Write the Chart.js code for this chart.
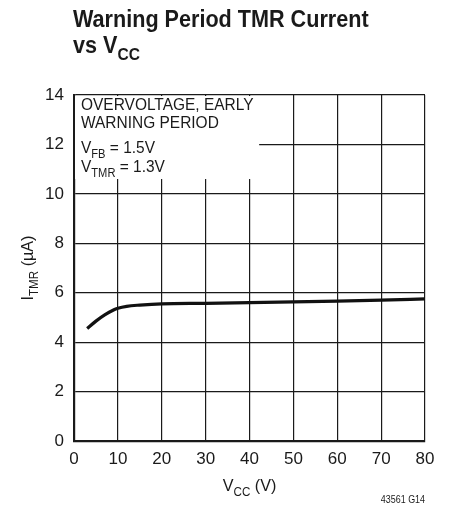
<!DOCTYPE html>
<html>
<head>
<meta charset="utf-8">
<script src="https://cdn.jsdelivr.net/npm/chart.js@4.4.0/dist/chart.umd.min.js"></script>
<style>
  html, body { margin: 0; padding: 0; background: #fff; }
  #wrap { width: 449px; height: 510px; position: relative; }
</style>
</head>
<body>
<div id="wrap"><canvas id="c" width="449" height="510"></canvas></div>
<script>
// values
let vcc = [3, 5, 7, 9, 10, 12, 15, 20, 30, 40, 50, 60, 70, 80];
let itmr = [4.55, 4.85, 5.1, 5.3, 5.37, 5.45, 5.5, 5.55, 5.57, 5.6, 5.63, 5.66, 5.7, 5.75];
let xTicks = [0, 10, 20, 30, 40, 50, 60, 70, 80];
let yTicks = [0, 2, 4, 6, 8, 10, 12, 14];

const FONT = "'Liberation Sans', sans-serif";
const INK = "#1a1a1a";

// draws text with subscript parts, squeezed horizontally by sx (the original type is condensed)
let drawParts = function(ctx, parts, x, y, size, weight, align, sx){
    sx = sx || 1;
    ctx.save();
    let w = 0;
    parts.forEach(p => {
        ctx.font = (weight || "normal") + " " + (p[1] ? size * 0.72 : size) + "px " + FONT;
        w += ctx.measureText(p[0]).width;
    });
    w *= sx;
    let cx = x;
    if(align === "center") cx = x - w / 2;
    if(align === "right") cx = x - w;
    ctx.translate(cx, y);
    ctx.scale(sx, 1);
    ctx.textBaseline = "alphabetic";
    ctx.textAlign = "left";
    ctx.fillStyle = INK;
    let px = 0;
    parts.forEach(p => {
        ctx.font = (weight || "normal") + " " + (p[1] ? size * 0.72 : size) + "px " + FONT;
        ctx.fillText(p[0], px, p[1] ? size * 0.3 : 0);
        px += ctx.measureText(p[0]).width;
    });
    ctx.restore();
};

const textPlugin = {
    id: "texts",
    afterDatasetsDraw(chart){
        const ctx = chart.ctx;
        const xs = chart.scales.x, ys = chart.scales.y;
        // white box behind the note, covering the grid
        let x0 = xs.getPixelForValue(0) + 1, x1 = xs.getPixelForValue(42.2);
        let y0 = ys.getPixelForValue(14) + 1, y1 = ys.getPixelForValue(10.6);
        ctx.save();
        ctx.fillStyle = "#fff";
        ctx.fillRect(x0, y0, x1 - x0, y1 - y0);
        ctx.restore();
        let tx = x0 + 6;
        drawParts(ctx, [["OVERVOLTAGE, EARLY", false]], tx, y0 + 14, 17, "normal", "left", 0.91);
        drawParts(ctx, [["WARNING PERIOD", false]], tx, y0 + 32, 17, "normal", "left", 0.91);
        drawParts(ctx, [["V", false], ["FB", true], [" = 1.5V", false]], tx, y0 + 57, 17, "normal", "left", 0.91);
        drawParts(ctx, [["V", false], ["TMR", true], [" = 1.3V", false]], tx, y0 + 76, 17, "normal", "left", 0.91);
    },
    afterDraw(chart){
        const ctx = chart.ctx;
        const a = chart.chartArea;
        // title
        drawParts(ctx, [["Warning Period TMR Current", false]], 73, 27, 24, "bold", "left", 0.9);
        drawParts(ctx, [["vs V", false], ["CC", true]], 73, 53, 24, "bold", "left", 0.9);
        // x axis title
        drawParts(ctx, [["V", false], ["CC", true], [" (V)", false]], (a.left + a.right) / 2, 491, 17, "normal", "center", 0.95);
        // y axis title
        ctx.save();
        ctx.translate(33, (a.top + a.bottom) / 2);
        ctx.rotate(-Math.PI / 2);
        drawParts(ctx, [["I", false], ["TMR", true], [" (µA)", false]], 0, 0, 17, "normal", "center", 0.95);
        ctx.restore();
        // figure code
        drawParts(ctx, [["43561 G14", false]], a.right, 503, 10.5, "normal", "right", 0.85);
    }
};

const data = {
    labels: vcc,
    datasets: [{
        data: vcc.map((v, i) => ({x: v, y: itmr[i]})),
        borderColor: "#111",
        borderWidth: 3.2,
        pointRadius: 0,
        fill: false,
        cubicInterpolationMode: "monotone"
    }]
};

new Chart(document.getElementById("c"), {
    type: "line",
    data: data,
    options: {
        responsive: false,
        animation: false,
        devicePixelRatio: 1,
        layout: { padding: { left: 0, right: 24, top: 95, bottom: 0 } },
        plugins: { legend: { display: false }, tooltip: { enabled: false }, title: { display: false } },
        scales: {
            x: {
                type: "linear",
                min: 0, max: 80,
                afterFit: s => { s.height = 69; },
                afterBuildTicks: s => { s.ticks = xTicks.map(v => ({value: v})); },
                grid: { color: INK, lineWidth: 1.2, drawTicks: false },
                border: { color: INK, width: 2.2 },
                ticks: { color: INK, padding: 8, font: { family: FONT, size: 17 }, maxRotation: 0 }
            },
            y: {
                type: "linear",
                min: 0, max: 14,
                afterFit: s => { s.width = 74; },
                afterBuildTicks: s => { s.ticks = yTicks.map(v => ({value: v})); },
                grid: { color: INK, lineWidth: 1.2, drawTicks: false },
                border: { color: INK, width: 2.2 },
                ticks: { color: INK, padding: 10, font: { family: FONT, size: 17 } }
            }
        }
    },
    plugins: [textPlugin]
});
</script>
</body>
</html>
